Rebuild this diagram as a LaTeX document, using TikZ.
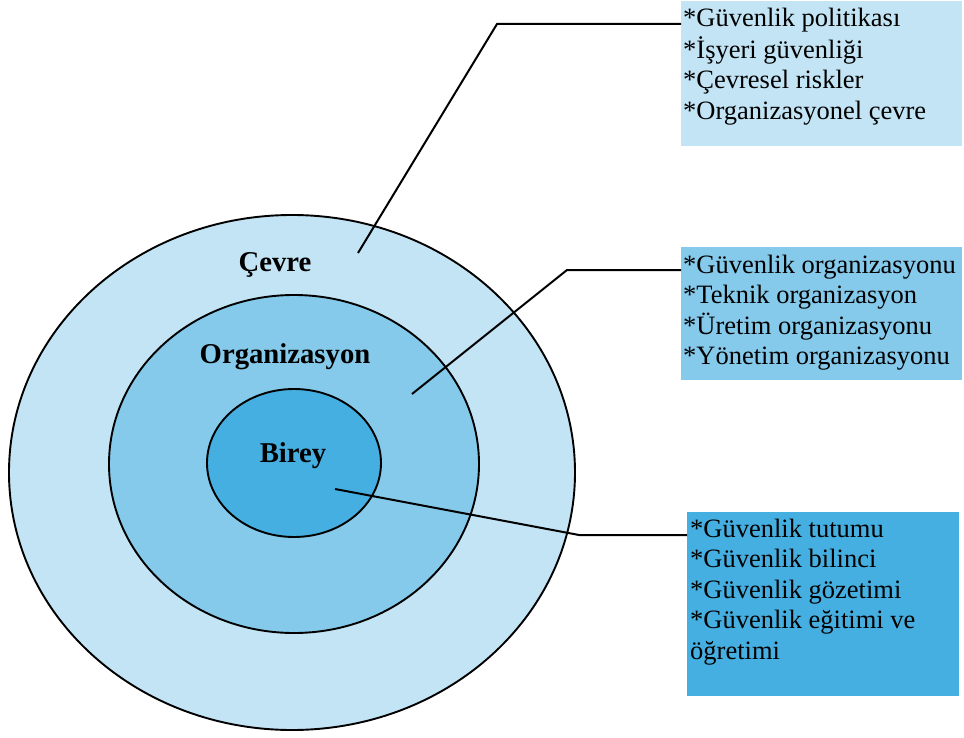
\documentclass[tikz,border=0pt]{standalone}
\usepackage{fontspec}
\setmainfont{Liberation Serif}
\usetikzlibrary{shapes.geometric}
\definecolor{cLight}{HTML}{C2E4F4}
\definecolor{cMid}{HTML}{85CAEB}
\definecolor{cDark}{HTML}{46AFE1}
\tikzset{
  ring/.style={ellipse, draw=black, line width=1.9pt, inner sep=0pt},
  infobox/.style={rectangle, inner sep=0pt, anchor=north west},
  infotext/.style={anchor=base west, inner sep=0pt, font=\fontsize{26.5}{30.6}\selectfont},
  ringlabel/.style={anchor=base, inner sep=0pt, font=\fontsize{28.7}{32}\selectfont\bfseries},
  leader/.style={draw=black, line width=2pt, line join=miter}
}
\begin{document}
\begin{tikzpicture}[x=1pt,y=-1pt]
\useasboundingbox (0,0) rectangle (964,738);
% rings
\node[ring, fill=cLight, minimum width=566pt, minimum height=515pt] (outer) at (292,472.5) {};
\node[ring, fill=cMid, minimum width=370pt, minimum height=338pt] (middle) at (294,464) {};
\node[ring, fill=cDark, minimum width=174pt, minimum height=148pt] (inner) at (294,463) {};
% boxes
\node[infobox, fill=cLight, minimum width=281pt, minimum height=145pt] (box1) at (681,1) {};
\node[infobox, fill=cMid, minimum width=281pt, minimum height=133pt] (box2) at (681,247) {};
\node[infobox, fill=cDark, minimum width=272pt, minimum height=184pt] (box3) at (687,512) {};
% texts in boxes
\node[infotext] (t1) at (683,27) {\begin{tabular}[t]{@{}l@{}}*Güvenlik politikası\\{}*İşyeri güvenliği\\{}*Çevresel riskler\\{}*Organizasyonel çevre\end{tabular}};
\node[infotext] (t2) at (683,273) {\begin{tabular}[t]{@{}l@{}}*Güvenlik organizasyonu\\{}*Teknik organizasyon\\{}*Üretim organizasyonu\\{}*Yönetim organizasyonu\end{tabular}};
\node[infotext] (t3) at (690,537) {\begin{tabular}[t]{@{}l@{}}*Güvenlik tutumu\\{}*Güvenlik bilinci\\{}*Güvenlik gözetimi\\{}*Güvenlik eğitimi ve\\öğretimi\end{tabular}};
% leader lines
\coordinate (p1) at (358,253);
\coordinate (k1) at (497,24);
\coordinate (p2) at (412,394);
\coordinate (k2) at (567,270);
\coordinate (p3) at (335,489);
\coordinate (k3) at (579,535);
\draw[leader] (p1) -- (k1) -- (k1 -| box1.west);
\draw[leader] (p2) -- (k2) -- (k2 -| box2.west);
\draw[leader] (p3) -- (k3) -- (k3 -| box3.west);
% ring labels
\node[ringlabel] (l1) at (275,271) {Çevre};
\node[ringlabel] (l2) at (285,363) {Organizasyon};
\node[ringlabel] (l3) at (293,462) {Birey};
\end{tikzpicture}
\end{document}
